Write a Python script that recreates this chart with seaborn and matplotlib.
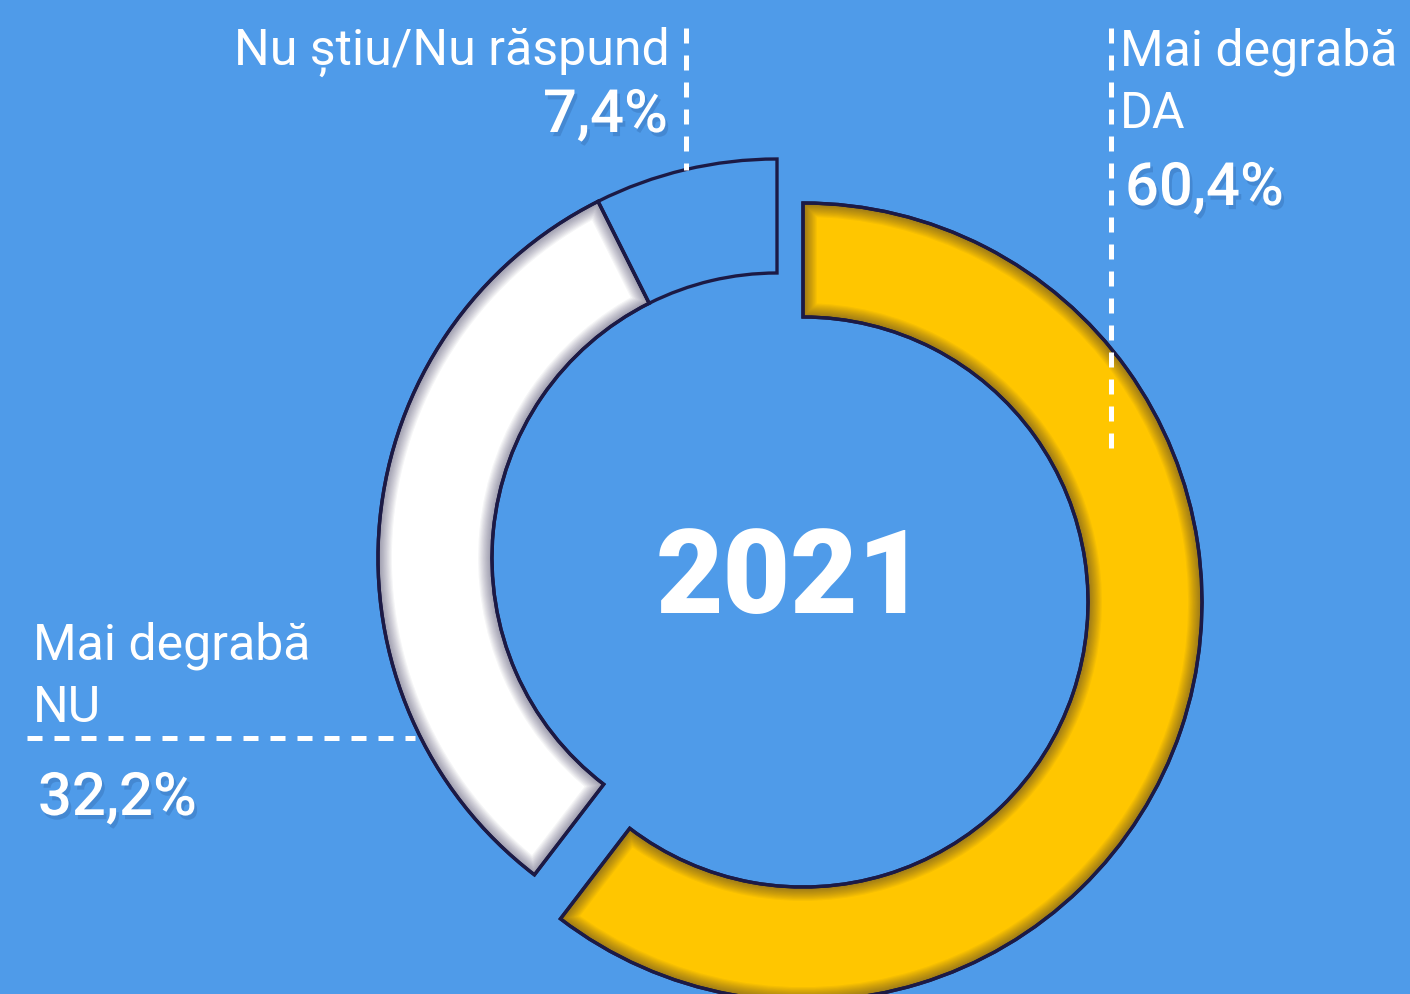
import matplotlib
matplotlib.use("Agg")
import matplotlib.pyplot as plt
import matplotlib.patheffects as pe
from matplotlib.patches import Wedge
import numpy as np
import seaborn as sns

# Survey answers, 2021
categories = ["Mai degrabă\nDA", "Mai degrabă\nNU", "Nu știu/Nu răspund"]
shares = [60.4, 32.2, 7.4]
year_label = "2021"

BG = "#4f9be9"
YELLOW = "#ffc600"
WHITE = "#ffffff"
OUTLINE = "#1c1a45"
colors = [YELLOW, WHITE, BG]

sns.set_theme(style="white", rc={"axes.facecolor": BG, "figure.facecolor": BG})
plt.rcParams["font.family"] = ["Roboto", "DejaVu Sans"]

W, H = 1410, 994
fig = plt.figure(figsize=(W / 100, H / 100), dpi=100)
ax = fig.add_axes([0, 0, 1, 1])
ax.set_facecolor(BG)

# axes in pixel units, y pointing up
center = (777, H - 558)
radius, ring = 399, 114
wedges, _ = ax.pie(
    shares, colors=colors, startangle=90, counterclock=False,
    radius=radius, center=center,
    wedgeprops=dict(width=ring, edgecolor=OUTLINE, linewidth=2.4),
)
# the main segment is pulled out down and to the right
wedges[0].set_center((center[0] + 26, center[1] - 44))

# soft inner shade along the edges of the filled segments
for w in wedges[:2]:
    for lw in np.linspace(20, 2, 12):
        shade = Wedge(w.center, w.r, w.theta1, w.theta2, width=w.width,
                      fill=False, edgecolor=OUTLINE, linewidth=lw, alpha=0.045,
                      zorder=w.get_zorder() + 0.1)
        ax.add_patch(shade)
        shade.set_clip_path(w)
    outline = Wedge(w.center, w.r, w.theta1, w.theta2, width=w.width,
                    fill=False, edgecolor=OUTLINE, linewidth=2.4,
                    zorder=w.get_zorder() + 0.2)
    ax.add_patch(outline)

ax.set_xlim(0, W)
ax.set_ylim(0, H)
ax.set_aspect("equal")
ax.axis("off")


def pct(v):
    return f"{v:.1f}".replace(".", ",") + "%"


shadow = [pe.SimplePatchShadow(offset=(2, -3), shadow_rgbFace="#2b5f9e", alpha=0.3),
          pe.Normal()]
label_kw = dict(color="white", fontsize=36, va="baseline")
pct_kw = dict(color="white", fontsize=43, fontweight="medium", va="baseline",
              path_effects=shadow)

da_l1, da_l2 = categories[0].split("\n")
nu_l1, nu_l2 = categories[1].split("\n")

# yes
ax.text(1120, H - 65, da_l1, ha="left", **label_kw)
ax.text(1120, H - 128, da_l2, ha="left", **label_kw)
ax.text(1125, H - 205, pct(shares[0]), ha="left", **pct_kw)
# no
ax.text(33, H - 660, nu_l1, ha="left", **label_kw)
ax.text(33, H - 722, nu_l2, ha="left", **label_kw)
ax.text(38, H - 815, pct(shares[1]), ha="left", **pct_kw)
# don't know
ax.text(670, H - 65, categories[2], ha="right", **label_kw)
ax.text(668, H - 132, pct(shares[2]), ha="right", **pct_kw)

ax.text(791, H - 613, year_label, ha="center", va="baseline", color="white",
        fontsize=84, fontweight="black")

# dashed leader lines
dash = dict(color="white", linewidth=3.6, linestyle=(0, (3.0, 2.4)),
            solid_capstyle="butt", dash_capstyle="butt", zorder=10)
ax.plot([686, 686], [H - 28, H - 170], **dash)
ax.plot([1111, 1111], [H - 28, H - 450], **dash)
ax.plot([27, 415], [H - 738, H - 738], **dash)

fig.savefig("out.png", dpi=100, facecolor=BG)
